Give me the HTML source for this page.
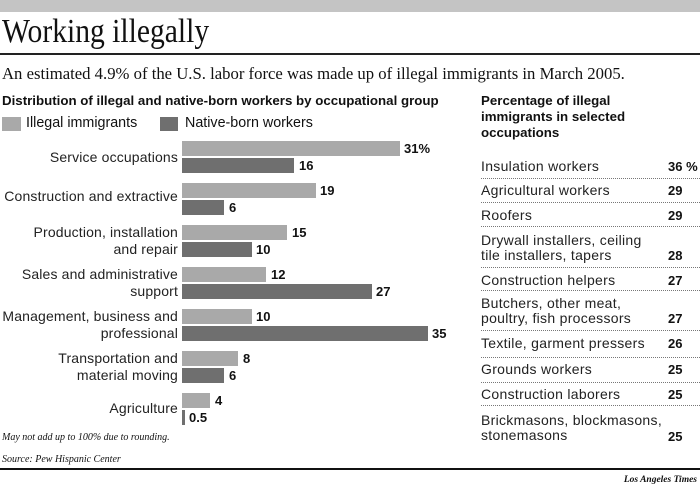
<!DOCTYPE html>
<html><head><meta charset="utf-8"><style>
body{margin:0;width:700px;height:489px;background:#fff;position:relative;overflow:hidden;font-family:"Liberation Sans",sans-serif;color:#111}
.a{position:absolute;white-space:nowrap}
.lbl{position:absolute;right:522px;font-size:14px;letter-spacing:0.15px;text-align:right;line-height:17px;color:#222;white-space:nowrap}
.bar{position:absolute;left:182px;height:15px}
.il{background:#a9a9a9}
.nb{background:#6f6f6f}
.v{position:absolute;font-weight:bold;font-size:13px;line-height:15px}
.r{position:absolute;left:481px;font-size:14px;letter-spacing:0.3px;line-height:15px;color:#222;white-space:nowrap}
.rv{position:absolute;left:668px;font-size:13px;font-weight:bold;line-height:15px}
.dot{position:absolute;left:481px;width:219px;border-top:1px dotted #777}
</style></head><body>
<div class="a" style="left:0;top:0;width:700px;height:12px;background:#c4c4c4"></div>
<div class="a" style="left:2px;top:12px;font-family:'Liberation Serif',serif;font-size:34px;line-height:40px;transform:scaleX(0.87);transform-origin:0 0">Working illegally</div>
<div class="a" style="left:0;top:53px;width:700px;height:2px;background:#222"></div>
<div class="a" style="left:2px;top:64px;font-family:'Liberation Serif',serif;font-size:16.7px">An estimated 4.9% of the U.S. labor force was made up of illegal immigrants in March 2005.</div>
<div class="a" style="left:2px;top:93px;font-size:13.3px;font-weight:bold">Distribution of illegal and native-born workers by occupational group</div>
<div class="a il" style="left:2px;top:117px;width:19px;height:14px"></div>
<div class="a" style="left:26px;top:115px;font-size:14.3px">Illegal immigrants</div>
<div class="a nb" style="left:160px;top:117px;width:18px;height:14px"></div>
<div class="a" style="left:185px;top:115px;font-size:14.3px">Native-born workers</div>

<div class="lbl" style="top:149px">Service occupations</div>
<div class="bar il" style="top:141px;width:218px"></div><div class="v" style="left:404px;top:141px">31%</div>
<div class="bar nb" style="top:158px;width:112px"></div><div class="v" style="left:299px;top:158px">16</div>

<div class="lbl" style="top:188px">Construction and extractive</div>
<div class="bar il" style="top:183px;width:134px"></div><div class="v" style="left:320px;top:183px">19</div>
<div class="bar nb" style="top:200px;width:42px"></div><div class="v" style="left:229px;top:200px">6</div>

<div class="lbl" style="top:224px">Production, installation<br>and repair</div>
<div class="bar il" style="top:225px;width:105px"></div><div class="v" style="left:292px;top:225px">15</div>
<div class="bar nb" style="top:242px;width:70px"></div><div class="v" style="left:256px;top:242px">10</div>

<div class="lbl" style="top:266px">Sales and administrative<br>support</div>
<div class="bar il" style="top:267px;width:84px"></div><div class="v" style="left:271px;top:267px">12</div>
<div class="bar nb" style="top:284px;width:190px"></div><div class="v" style="left:376px;top:284px">27</div>

<div class="lbl" style="top:308px">Management, business and<br>professional</div>
<div class="bar il" style="top:309px;width:70px"></div><div class="v" style="left:256px;top:309px">10</div>
<div class="bar nb" style="top:326px;width:246px"></div><div class="v" style="left:432px;top:326px">35</div>

<div class="lbl" style="top:350px">Transportation and<br>material moving</div>
<div class="bar il" style="top:351px;width:56px"></div><div class="v" style="left:243px;top:351px">8</div>
<div class="bar nb" style="top:368px;width:42px"></div><div class="v" style="left:229px;top:368px">6</div>

<div class="lbl" style="top:400px">Agriculture</div>
<div class="bar il" style="top:393px;width:28px"></div><div class="v" style="left:215px;top:393px">4</div>
<div class="bar nb" style="top:410px;width:3px"></div><div class="v" style="left:189px;top:410px">0.5</div>

<div class="a" style="left:2px;top:432px;font-family:'Liberation Serif',serif;font-style:italic;font-size:10px">May not add up to 100% due to rounding.</div>
<div class="a" style="left:2px;top:454px;font-family:'Liberation Serif',serif;font-style:italic;font-size:10px">Source: Pew Hispanic Center</div>
<div class="a" style="left:0;top:468px;width:700px;height:2px;background:#111"></div>
<div class="a" style="right:3px;top:475px;font-family:'Liberation Serif',serif;font-style:italic;font-weight:bold;font-size:9.5px">Los Angeles Times</div>

<div class="a" style="left:481px;top:93px;font-size:13.3px;font-weight:bold;line-height:16px">Percentage of illegal<br>immigrants in selected<br>occupations</div>

<div class="r" style="top:159px">Insulation workers</div><div class="rv" style="top:159px">36 %</div>
<div class="dot" style="top:178px"></div>
<div class="r" style="top:183px">Agricultural workers</div><div class="rv" style="top:183px">29</div>
<div class="dot" style="top:202px"></div>
<div class="r" style="top:208px">Roofers</div><div class="rv" style="top:208px">29</div>
<div class="dot" style="top:226px"></div>
<div class="r" style="top:233px">Drywall installers, ceiling<br>tile installers, tapers</div><div class="rv" style="top:248px">28</div>
<div class="dot" style="top:267px"></div>
<div class="r" style="top:273px">Construction helpers</div><div class="rv" style="top:273px">27</div>
<div class="dot" style="top:290px"></div>
<div class="r" style="top:296px">Butchers, other meat,<br>poultry, fish processors</div><div class="rv" style="top:311px">27</div>
<div class="dot" style="top:330px"></div>
<div class="r" style="top:336px">Textile, garment pressers</div><div class="rv" style="top:336px">26</div>
<div class="dot" style="top:357px"></div>
<div class="r" style="top:362px">Grounds workers</div><div class="rv" style="top:362px">25</div>
<div class="dot" style="top:382px"></div>
<div class="r" style="top:387px">Construction laborers</div><div class="rv" style="top:387px">25</div>
<div class="dot" style="top:405px"></div>
<div class="r" style="top:413px">Brickmasons, blockmasons,<br>stonemasons</div><div class="rv" style="top:429px">25</div>
</body></html>
